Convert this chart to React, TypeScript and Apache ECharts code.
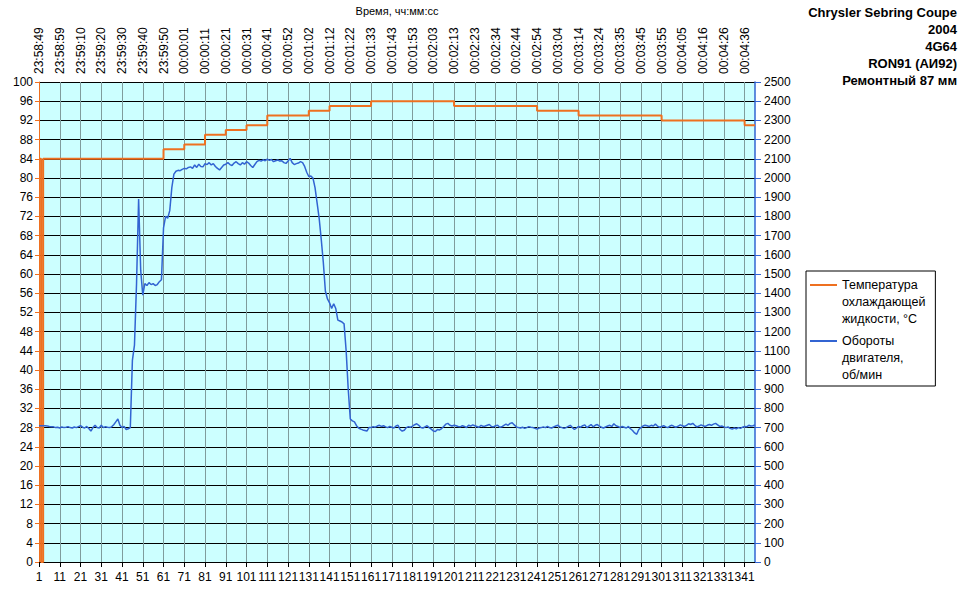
import React, { useEffect, useRef } from 'react';
import * as echarts from 'echarts';

const timeLabels = [
  '23:58:49', '23:58:59', '23:59:10', '23:59:20', '23:59:30', '23:59:40', '23:59:50',
  '00:00:01', '00:00:11', '00:00:21', '00:00:31', '00:00:41', '00:00:52', '00:01:02',
  '00:01:12', '00:01:22', '00:01:33', '00:01:43', '00:01:53', '00:02:03', '00:02:13',
  '00:02:23', '00:02:34', '00:02:44', '00:02:54', '00:03:04', '00:03:14', '00:03:24',
  '00:03:35', '00:03:45', '00:03:55', '00:04:05', '00:04:16', '00:04:26', '00:04:36',
];

// coolant temperature: sample number where the reading changes, and the new reading
const tempChangeIndex = [1, 2, 3, 61, 71, 81, 91, 101, 111, 131, 141, 161, 201, 241, 261, 301, 341, 346];
const tempChangeValue = [84, 0, 84, 86, 87, 89, 90, 91, 93, 94, 95, 96, 95, 94, 93, 92, 91, 91];

// engine speed, rpm, one value per sample
const rpm = [
  710, 710, 710, 710, 708, 706, 705, 704, 700, 702,
  698, 704, 700, 702, 705, 700, 698, 703, 700, 705,
  710, 702, 698, 706, 695, 682, 700, 712, 700, 698,
  712, 700, 705, 702, 700, 704, 715, 730, 745, 712,
  700, 706, 690, 694, 700, 1050, 1130, 1450, 1890, 1520,
  1390, 1450, 1440, 1455, 1445, 1450, 1440, 1445, 1460, 1470,
  1740, 1800, 1790, 1830, 1950, 2020, 2035, 2040, 2038, 2045,
  2050, 2048, 2055, 2058, 2050, 2068, 2055, 2072, 2060, 2058,
  2075, 2070, 2080, 2068, 2075, 2060, 2050, 2042, 2055, 2068,
  2072, 2080, 2070, 2065, 2078, 2085, 2075, 2068, 2080, 2072,
  2085, 2078, 2065, 2055, 2070, 2085, 2092, 2088, 2095, 2090,
  2098, 2092, 2096, 2085, 2090, 2094, 2088, 2090, 2080, 2076,
  2088, 2102, 2080, 2070, 2075, 2078, 2085, 2080, 2060, 2030,
  2008, 2010, 2000, 1950, 1870, 1790, 1680, 1560, 1410, 1370,
  1350, 1320, 1345, 1320, 1260, 1255, 1250, 1240, 1100, 900,
  745, 735, 730, 710, 698, 692, 688, 685, 682, 700,
  700, 705, 702, 708, 712, 706, 710, 704, 700, 706,
  702, 698, 708, 712, 690, 682, 686, 700, 705, 702,
  708, 715, 720, 712, 700, 698, 704, 710, 700, 692,
  682, 680, 690, 688, 695, 706, 718, 722, 712, 708,
  712, 710, 706, 704, 710, 706, 700, 712, 708, 714,
  710, 706, 702, 712, 706, 708, 712, 716, 706, 704,
  710, 712, 702, 704, 712, 718, 712, 722, 725, 714,
  704, 700, 698, 702, 696, 700, 705, 702, 700, 696,
  692, 698, 700, 704, 700, 706, 700, 698, 704, 708,
  712, 704, 700, 696, 700, 706, 712, 700, 690, 698,
  706, 702, 710, 714, 700, 708, 716, 704, 712, 716,
  708, 702, 698, 704, 708, 712, 706, 720, 710, 706,
  700, 706, 702, 698, 706, 694, 685, 672, 665, 690,
  700, 708, 712, 710, 706, 712, 708, 718, 708, 702,
  706, 710, 704, 700, 708, 712, 706, 702, 708, 714,
  710, 706, 712, 720, 716, 722, 712, 704, 708, 714,
  710, 706, 712, 716, 712, 718, 722, 714, 706, 708,
  704, 700, 704, 696, 692, 698, 694, 700, 696, 702,
  706, 704, 712, 708, 710, 714,
];

const titleLines = ['Chrysler Sebring Coupe', '2004', '4G64', 'RON91 (АИ92)', 'Ремонтный 87 мм'];
const tempName = 'Температура\nохлаждающей\nжидкости, °C';
const rpmName = 'Обороты\nдвигателя,\nоб/мин';
const axisTitle = 'Время, чч:мм:сс';

const FONT = '"Liberation Sans", Arial, sans-serif';
const ORANGE = '#ee7020';
const BLUE = '#3264d2';

export default function App() {
  const ref = useRef<HTMLDivElement>(null);

  useEffect(() => {
    document.body.style.margin = '0';
    if (!ref.current) return;
    const chart = echarts.init(ref.current, undefined, { renderer: 'svg' });

    const categories = rpm.map((_, i) => String(i + 1));
    const topCats = categories.map((_, i) => (i % 10 === 0 ? timeLabels[i / 10] ?? '' : ''));
    const every10 = (i: number) => i % 10 === 0;
    const tempData = tempChangeIndex.map((idx, k) => [idx - 1, tempChangeValue[k]]);

    chart.setOption({
      animation: false,
      textStyle: { fontFamily: FONT },
      grid: {
        left: 39,
        right: 205,
        top: 76,
        bottom: 29,
        show: true,
        backgroundColor: '#ccffff',
        borderWidth: 0,
      },
      legend: {
        orient: 'vertical',
        left: 806,
        top: 271,
        data: [tempName, rpmName],
        selectedMode: false,
        backgroundColor: '#ffffff',
        borderColor: '#000000',
        borderWidth: 1,
        padding: [5, 10, 3, 4],
        itemGap: 5,
        itemWidth: 27,
        itemHeight: 51,
        icon: 'path://M0,8H27V10H0Z M0,0H0.01V0.01H0Z M0,51H0.01V51.01H0Z',
        itemStyle: { borderWidth: 0 },
        textStyle: { fontSize: 12.5, lineHeight: 17, color: '#000', fontFamily: FONT },
      },
      graphic: titleLines.map((line, i) => ({
        type: 'text',
        right: 3,
        top: 6 + i * 17,
        style: {
          text: line,
          font: `bold 13px ${FONT}`,
          fill: '#000',
        },
      })),
      xAxis: [
        {
          type: 'category',
          position: 'bottom',
          data: categories,
          boundaryGap: false,
          axisLine: { show: true, lineStyle: { color: '#000', width: 1 } },
          axisTick: { show: true, interval: every10, length: 5, lineStyle: { color: '#000' } },
          axisLabel: { interval: every10, fontSize: 12, color: '#000', margin: 9, fontFamily: FONT },
          splitLine: { show: true, interval: every10, lineStyle: { color: '#7f9c9c', width: 1 } },
        },
        {
          type: 'category',
          position: 'top',
          data: topCats,
          boundaryGap: false,
          name: axisTitle,
          nameLocation: 'middle',
          nameGap: 66,
          nameTextStyle: { fontSize: 11, color: '#000', fontFamily: FONT },
          axisLine: { show: false },
          axisTick: { show: false },
          axisLabel: { interval: every10, rotate: 90, fontSize: 12, color: '#000', margin: 8, fontFamily: FONT },
          splitLine: { show: false },
        },
      ],
      yAxis: [
        {
          type: 'value',
          position: 'left',
          min: 0,
          max: 100,
          interval: 4,
          axisLine: { show: true, lineStyle: { color: ORANGE, width: 1 } },
          axisTick: { show: true, length: 4, lineStyle: { color: ORANGE } },
          axisLabel: { fontSize: 12, color: '#000', margin: 6, fontFamily: FONT },
          splitLine: { show: true, lineStyle: { color: '#000', width: 1 } },
        },
        {
          type: 'value',
          position: 'right',
          min: 0,
          max: 2500,
          interval: 100,
          axisLine: { show: true, lineStyle: { color: BLUE, width: 1.5 } },
          axisTick: { show: true, length: 6, lineStyle: { color: BLUE } },
          axisLabel: {
            fontSize: 12,
            color: '#000',
            margin: 9,
            fontFamily: FONT,
            formatter: (v: number) => String(v),
          },
          splitLine: { show: false },
        },
      ],
      series: [
        {
          name: tempName,
          type: 'line',
          xAxisIndex: 0,
          yAxisIndex: 0,
          data: tempData,
          step: 'end',
          symbol: 'none',
          showSymbol: false,
          itemStyle: { color: ORANGE },
          lineStyle: { color: ORANGE, width: 2 },
          z: 2,
        },
        {
          name: rpmName,
          type: 'line',
          xAxisIndex: 0,
          yAxisIndex: 1,
          data: rpm,
          symbol: 'none',
          showSymbol: false,
          itemStyle: { color: BLUE },
          lineStyle: { color: BLUE, width: 1.5 },
          z: 3,
        },
      ],
    });

    return () => chart.dispose();
  }, []);

  return <div ref={ref} style={{ width: 960, height: 591 }} />;
}
